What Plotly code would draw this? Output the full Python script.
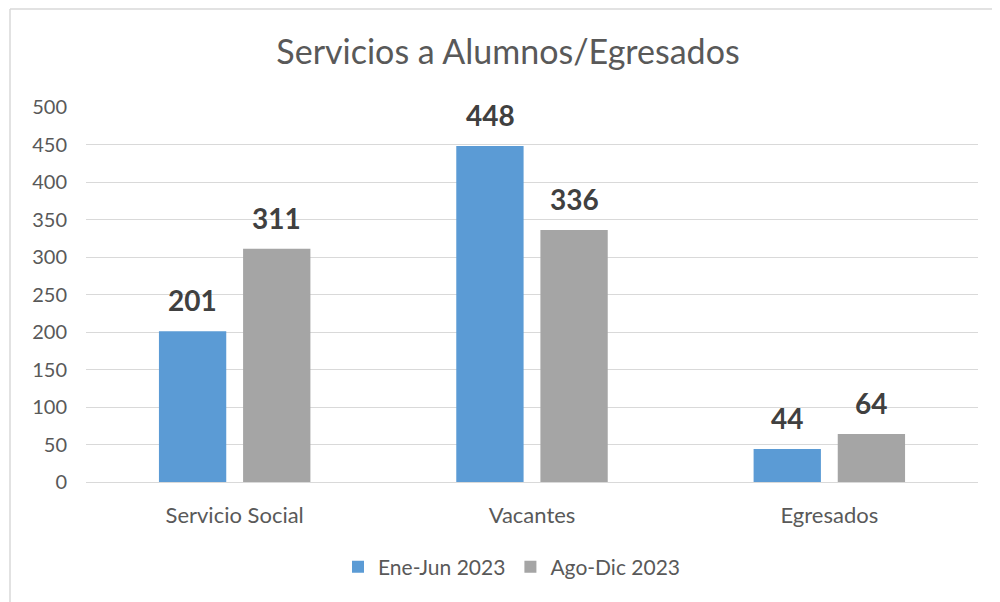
import plotly.graph_objects as go

categories = ["Servicio Social", "Vacantes", "Egresados"]
ene_jun = [201, 448, 44]
ago_dic = [311, 336, 64]
series_names = ["Ene-Jun 2023", "Ago-Dic 2023"]
y_ticks = list(range(0, 501, 50))

FONT = "Lato, Calibri, Carlito, sans-serif"
BLUE = "#5B9BD5"
GRAY = "#A5A5A5"

# page body has an 8px margin, so figure coords = screen coords - 8;
# figure sized so it does not overflow the 1000x602 window
W, H = 992, 594
L, T, R, B = 78, 99, 22, 120
PW, PH = W - L - R, H - T - B

fig = go.Figure()
fig.add_trace(go.Bar(x=categories, y=ene_jun, name=series_names[0], marker_color=BLUE,
                     marker_line_width=0))
fig.add_trace(go.Bar(x=categories, y=ago_dic, name=series_names[1], marker_color=GRAY,
                     marker_line_width=0))

# data labels
for idx, vals in enumerate([ene_jun, ago_dic]):
    for c, v in zip(categories, vals):
        fig.add_annotation(x=c, y=v, text=f"<b>{v}</b>", showarrow=False,
                           xshift=(-42 if idx == 0 else 42), yshift=31,
                           font=dict(family=FONT, size=28, color="#404040"))

bx = (2 - L) / PW
by = (PH + T - 1) / PH
fig.update_layout(
    width=W, height=H,
    margin=dict(l=L, r=R, t=T, b=B),
    paper_bgcolor="white", plot_bgcolor="white",
    barmode="group", bargap=0.434, bargroupgap=0.2,
    title=dict(text="Servicios a Alumnos/Egresados", x=500 / W, xanchor="center",
               y=1 - 44 / H, yanchor="middle",
               font=dict(family=FONT, size=34, color="#595959")),
    font=dict(family=FONT, color="#595959"),
    showlegend=True,
    legend=dict(orientation="h", x=(504 - L) / PW, xanchor="center",
                y=-85 / PH, yanchor="middle",
                font=dict(family=FONT, size=21, color="#595959"),
                itemwidth=30, traceorder="normal"),
    xaxis=dict(showgrid=False, showline=True, linecolor="#D9D9D9", linewidth=1,
               tickfont=dict(family=FONT, size=22, color="#595959"),
               ticks="outside", ticklen=14, tickcolor="rgba(0,0,0,0)"),
    yaxis=dict(range=[0, 500], tickvals=y_ticks, showgrid=True, gridcolor="#D9D9D9",
               gridwidth=1, zeroline=False, showline=False,
               tickfont=dict(family=FONT, size=20, color="#595959"),
               ticks="outside", ticklen=14, tickcolor="rgba(0,0,0,0)"),
    shapes=[
        dict(type="line", xref="paper", yref="paper", x0=bx, x1=bx, y0=by, y1=-0.6,
             line=dict(color="#D9D9D9", width=1.5), layer="below"),
        dict(type="line", xref="paper", yref="paper", x0=bx, x1=1.5, y0=by, y1=by,
             line=dict(color="#D9D9D9", width=1.5), layer="below"),
    ],
)

fig.write_html("out.html")
